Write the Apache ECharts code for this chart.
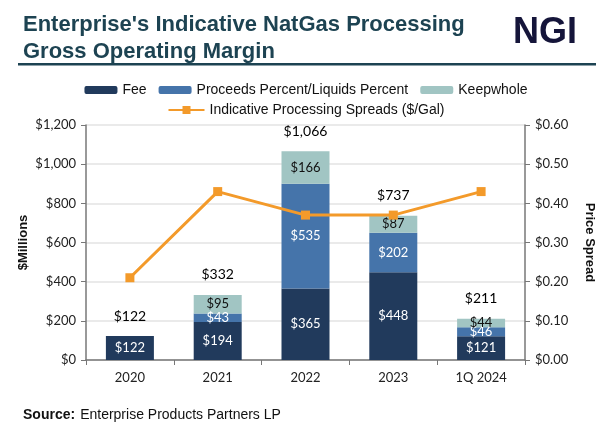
<!DOCTYPE html>
<html><head><meta charset="utf-8">
<script src="https://cdn.jsdelivr.net/npm/echarts@6/dist/echarts.min.js"></script>
<style>html,body{margin:0;padding:0;background:#fff}#c{width:612px;height:428px}</style>
</head><body><div id="c"></div>
<script>
const categories = ['2020','2021','2022','2023','1Q 2024'];
const fee = [122,194,365,448,121];
const proceeds = [null,43,535,202,46];
const keepwhole = [null,95,166,87,44];
const totals = [122,332,1066,737,211];
const spreads = [0.21,0.43,0.37,0.37,0.43];

const lblFont = 'Lato, "Open Sans", sans-serif';
const money = v => '$' + Number(v).toLocaleString('en-US');
const chart = echarts.init(document.getElementById('c'), null, {renderer:'canvas'});
chart.setOption({
  animation:false,
  title:[
    {text:"Enterprise's Indicative NatGas Processing\nGross Operating Margin", left:18, top:6,
     textStyle:{fontFamily:'"Liberation Sans", Arial, sans-serif', fontSize:22, fontWeight:'bold', color:'#1d4352', lineHeight:27}},
    {text:'{b|Source:} {n|Enterprise Products Partners LP}', left:18, top:401,
     textStyle:{fontWeight:'normal', rich:{b:{fontFamily:'"Liberation Sans", Arial', fontSize:14, fontWeight:'bold', color:'#111'},
                      n:{fontFamily:'"Liberation Sans", Arial', fontSize:14, fontWeight:'normal', color:'#111'}}}}
  ],
  graphic:[
    {type:'rect', shape:{x:18,y:63,width:578,height:2.5}, style:{fill:'#1d4352'}},
    {type:'text', left:513, top:15, style:{text:'NGI', font:'bold 36px "Liberation Sans", Arial', fill:'#15153a'}}
  ],
  legend:[
    {data:['Fee','Proceeds Percent/Liquids Percent','Keepwhole'], top:78, left:'center',
     itemWidth:33, itemHeight:8, itemGap:12,
     textStyle:{fontFamily:'"Liberation Sans", Arial', fontSize:14, color:'#111'}},
    {data:['Indicative Processing Spreads ($/Gal)'], top:98, left:'center',
     itemWidth:36, itemHeight:10, textStyle:{fontFamily:'"Liberation Sans", Arial', fontSize:14, color:'#111'}}
  ],
  grid:{left:86, right:87, top:125, bottom:68},
  xAxis:{type:'category', data:categories,
    axisLine:{lineStyle:{color:'#777', width:1.5}}, axisTick:{show:true, length:5, lineStyle:{color:'#777'}},
    axisLabel:{fontFamily:lblFont, fontSize:13, color:'#222', margin:11}},
  yAxis:[
    {type:'value', min:0, max:1200, interval:200, name:'$Millions', nameLocation:'middle', nameGap:56, nameRotate:90, nameMoveOverlap:false,
     nameTextStyle:{fontFamily:'"Liberation Sans", Arial', fontSize:13, fontWeight:'bold', color:'#111'},
     axisLine:{show:true, lineStyle:{color:'#777', width:1.5}}, axisTick:{show:true, length:5, lineStyle:{color:'#777'}},
     axisLabel:{fontFamily:lblFont, fontSize:13, color:'#222', margin:10, formatter:v=>money(v)},
     splitLine:{lineStyle:{color:'#e3e3e3', width:1.5}}},
    {type:'value', min:0, max:0.6, interval:0.1, name:'Price Spread', nameLocation:'middle', nameGap:58, nameRotate:-90, nameMoveOverlap:false,
     nameTextStyle:{fontFamily:'"Liberation Sans", Arial', fontSize:13, fontWeight:'bold', color:'#111'},
     axisLine:{show:true, lineStyle:{color:'#777', width:1.5}}, axisTick:{show:true, length:5, lineStyle:{color:'#777'}},
     axisLabel:{fontFamily:lblFont, fontSize:13, color:'#222', margin:10, formatter:v=>'$'+v.toFixed(2)},
     splitLine:{show:false}}
  ],
  series:[
    {name:'Fee', type:'bar', stack:'m', data:fee, barWidth:48, itemStyle:{color:'#213a5c'},
     label:{show:true, position:'inside', color:'#fff', fontFamily:lblFont, fontSize:13, formatter:p=>money(p.value)}},
    {name:'Proceeds Percent/Liquids Percent', type:'bar', stack:'m', data:proceeds, itemStyle:{color:'#4574aa'},
     label:{show:true, position:'inside', color:'#fff', fontFamily:lblFont, fontSize:13, formatter:p=>money(p.value)}},
    {name:'Keepwhole', type:'bar', stack:'m', data:keepwhole, itemStyle:{color:'#a1c5c3'},
     label:{show:true, position:'inside', color:'#111', fontFamily:lblFont, fontSize:13, formatter:p=>money(p.value)}},
    {name:'Total', type:'scatter', data:totals, symbolSize:2, itemStyle:{color:'rgba(0,0,0,0)'}, silent:true, z:6,
     label:{show:true, position:'top', distance:12, color:'#000', opacity:1, textBorderWidth:0, fontFamily:lblFont, fontSize:14, formatter:p=>money(p.value)}},
    {name:'Indicative Processing Spreads ($/Gal)', type:'line', yAxisIndex:1, data:spreads,
     symbol:'rect', symbolSize:9, lineStyle:{color:'#f39a2a', width:3}, itemStyle:{color:'#f39a2a'}, z:5}
  ]
});
</script></body></html>
